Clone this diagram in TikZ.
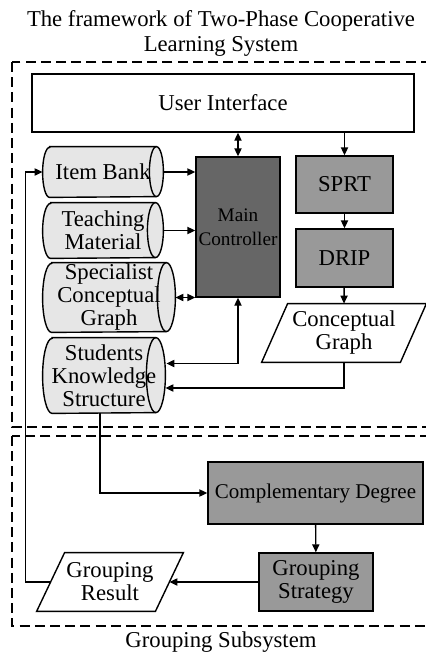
\documentclass[tikz,border=0pt]{standalone}
\usepackage{fontspec}
\setmainfont{Liberation Serif}
\usetikzlibrary{arrows.meta,calc,backgrounds}

\definecolor{cylfill}{HTML}{E6E6E6}
\definecolor{darkfill}{HTML}{666666}
\definecolor{midfill}{HTML}{999999}

% horizontal storage cylinder drawn behind node #1;
% #2 = half of its height, #3 = end-cap radius (in picture units), #4 = the same in pt
\newcommand{\cylbody}[4]{%
  \begin{pgfonlayer}{background}
  \draw[box, fill=cylfill] ($(#1.north west)+(#3,0)$) -- ($(#1.north east)+(-#3,0)$)
     arc[start angle=90, end angle=-90, x radius=#4, y radius=#2]
     -- ($(#1.south west)+(#3,0)$)
     arc[start angle=270, end angle=90, x radius=#4, y radius=#2] -- cycle;
  \draw[box] ($(#1.north east)+(-#3,0)$)
     arc[start angle=90, end angle=270, x radius=#4, y radius=#2];
  \end{pgfonlayer}}

\begin{document}
\begin{tikzpicture}[x=0.5pt,y=-0.5pt,
  every node/.style={font=\fontsize{11.35}{11.5}\selectfont, inner sep=0pt},
  box/.style={draw, line width=0.7pt},
  framebox/.style={draw, line width=0.7pt, dash pattern=on 5pt off 2.6pt},
  rectbox/.style={box, rectangle, align=center},
  plain/.style={rectangle, align=center},
  conn/.style={line width=0.7pt, -{Triangle[length=4pt,width=3.6pt]}},
  dconn/.style={line width=0.7pt, {Triangle[length=4pt,width=3.6pt]}-{Triangle[length=4pt,width=3.6pt]}}
]
\useasboundingbox (0,0) rectangle (426,653);
\clip (0,0) rectangle (426,653);

% title and the two subsystem frames
\node[font=\fontsize{11.35}{12.5}\selectfont, align=center] (title) at (221,33)
  {The framework of Two-Phase Cooperative\\Learning System};
\draw[framebox] (12,62) rectangle (434,427);
\draw[framebox] (12,436) rectangle (434,626);
\node (gsub) at (221,642) {Grouping Subsystem};

% learning subsystem
\node[rectbox, fill=white, minimum width=191pt, minimum height=29pt] (ui) at (223,103) {User Interface};

\node[plain, minimum width=60pt, minimum height=25pt] (ib) at (103,172) {Item Bank};
\cylbody{ib}{12.5pt}{7}{3.5pt}
\node[plain, minimum width=60pt, minimum height=27.5pt] (tm) at (103,230.5) {Teaching\\Material};
\cylbody{tm}{13.75pt}{8}{4pt}
\node[plain, minimum width=66pt, minimum height=34.5pt] (sp) at (109,297.5) {Specialist\\Conceptual\\Graph};
\cylbody{sp}{17.25pt}{9}{4.5pt}
\node[plain, minimum width=61pt, minimum height=37.5pt] (st) at (104,375.5) {Students\\Knowledge\\Structure};
\cylbody{st}{18.75pt}{9.5}{4.75pt}

\node[rectbox, fill=darkfill, minimum width=42pt, minimum height=70pt,
      font=\fontsize{9.6}{12}\selectfont] (main) at (238,227) {Main\\Controller};
\node[rectbox, fill=midfill, minimum width=48.5pt, minimum height=28.5pt] (sprt) at (344.5,184.5) {SPRT};
\node[rectbox, fill=midfill, minimum width=48.5pt, minimum height=29pt] (drip) at (344.5,258) {DRIP};
\node[plain, minimum width=82pt, minimum height=29pt] (cg) at (344,333) {Conceptual\\Graph};
\draw[box] (cg.south west) -- ($(cg.south east)+(-26,0)$) -- (cg.north east)
  -- ($(cg.north west)+(26,0)$) -- cycle;

% grouping subsystem
\node[rectbox, fill=midfill, minimum width=107.5pt, minimum height=31pt,
      font=\fontsize{10.5}{11.5}\selectfont] (cd) at (315.5,493) {Complementary Degree};
\node[rectbox, fill=midfill, minimum width=57pt, minimum height=29pt] (gs) at (316,582) {Grouping\\Strategy};
\node[plain, minimum width=73pt, minimum height=29pt] (gr) at (110,582) {Grouping\\Result};
\draw[box] (gr.south west) -- ($(gr.south east)+(-28,0)$) -- (gr.north east)
  -- ($(gr.north west)+(28,0)$) -- cycle;

% connectors
\draw[dconn] (main.north) -- (main.north |- ui.south);
\draw[conn] (ui.south -| sprt.north) -- (sprt.north);
\draw[conn] (sprt) -- (drip);
\draw[conn] (drip) -- (cg.north);
\draw[conn] (ib.east) -- (ib.east -| main.west);
\draw[conn] (tm.east) -- (tm.east -| main.west);
\draw[dconn] (sp.east) -- (sp.east -| main.west);
\draw[dconn] ($(st.east)+(1,-12)$) -| (main.south);
\draw[conn] (cg.south) |- ($(st.east)+(0,12.5)$);
\draw[conn] ($(st.south)+(-4,0)$) |- (cd.west);
\draw[conn] (cd) -- (gs);
\draw[conn] (gs.west) -- ($(gr.east)+(-14,0)$);
\draw[conn] ($(gr.west)+(14,0)$) -- ++(-25,0) |- (ib.west);
\end{tikzpicture}
\end{document}
